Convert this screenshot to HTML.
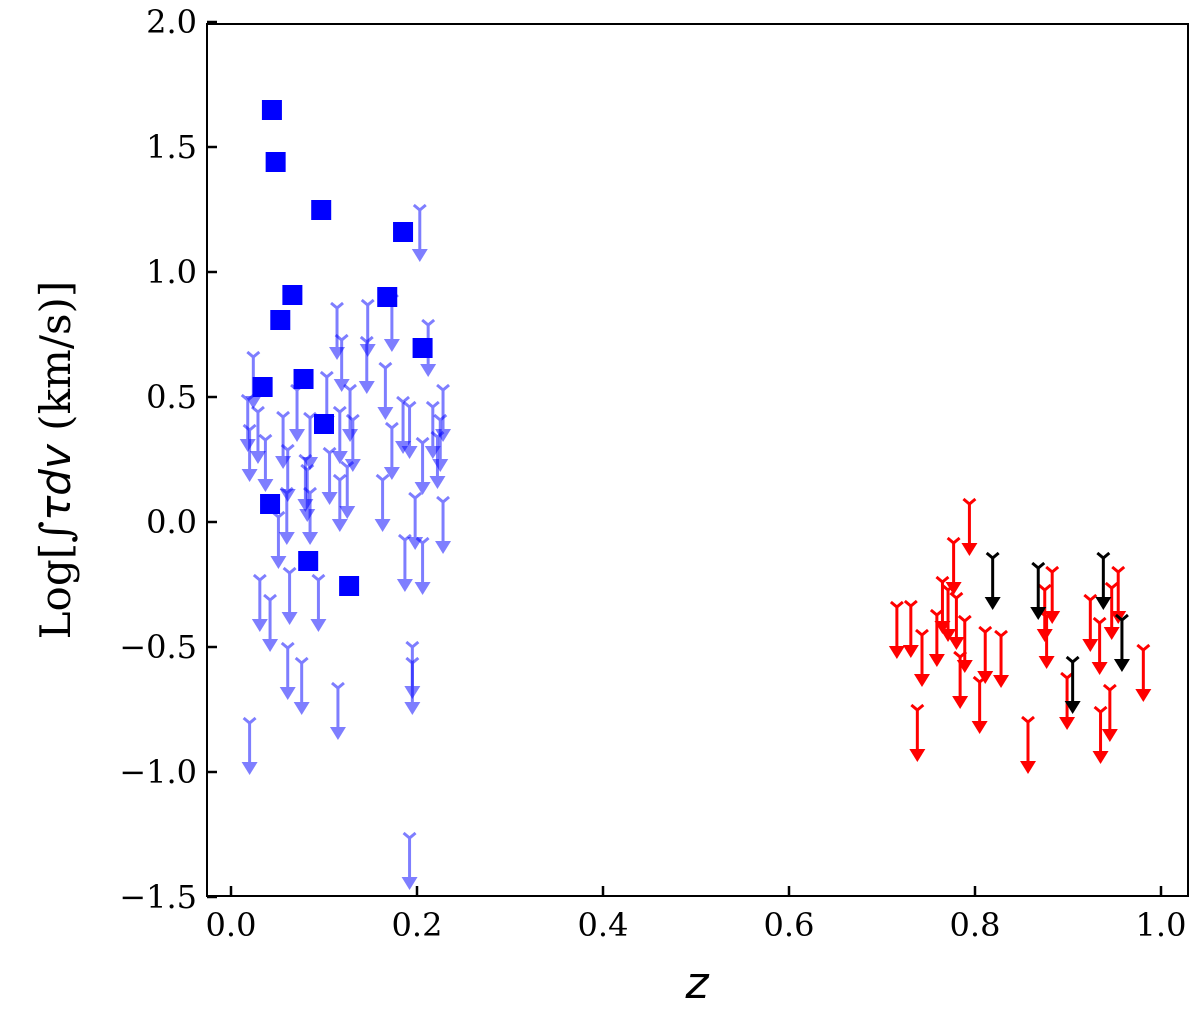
<!DOCTYPE html>
<html><head><meta charset="utf-8"><style>
body{margin:0;background:#fff}
svg text{font-family:"DejaVu Serif","Liberation Serif",serif;fill:#000}
</style></head><body>
<svg id="chart" width="1200" height="1012" xmlns="http://www.w3.org/2000/svg">
<rect x="207" y="24" width="981" height="872" fill="none" stroke="#000" stroke-width="2"/>
<g id="ticks"></g>
<g id="marks"></g>
<text x="697" y="998" font-size="44" font-style="italic" text-anchor="middle" style="font-family:'DejaVu Sans',sans-serif">z</text>
<text transform="translate(70,460) rotate(-90)" font-size="42" text-anchor="middle">Log[∫<tspan font-style="italic" style="font-family:'DejaVu Sans',sans-serif">τdv</tspan> (km/s)]</text>
</svg>
<script>
const xTicks=[0.0,0.2,0.4,0.6,0.8,1.0];
const yTicks=[-1.5,-1.0,-0.5,0.0,0.5,1.0,1.5,2.0];
const detZ=[.044,.048,.097,.185,.066,.053,.168,.206,.034,.078,.100,.042,.083,.127];
const detY=[1.648,1.44,1.248,1.16,.908,.808,.90,.696,.54,.572,.392,.072,-.156,-.256];
const lowZ=[.203,.192,.114,.147,.173,.212,.024,.119,.146,.103,.128,.071,.166,.018,.029,.056,.085,.185,.192,.217,.228,.117,.131,.173,.225,.037,.106,.080,.061,.125,.163,.206,.222,.198,.228,.051,.031,.042,.063,.094,.061,.076,.195,.195,.115,.020,.206,.187,.082,.020,.085,.060,.117];
const lowY=[1.248,-1.264,.856,.868,.888,.788,.66,.728,.72,.58,.528,.528,.616,.488,.44,.42,.416,.48,.46,.46,.528,.44,.408,.376,.408,.328,.276,.248,.288,.22,.168,.316,.34,.096,.08,.02,-.232,-.312,-.204,-.232,-.504,-.564,-.5,-.564,-.664,-.804,-.084,-.072,.208,.368,.116,.116,.168];
const redZ=[.794,.777,.765,.716,.731,.743,.771,.780,.759,.789,.811,.828,.738,.883,.875,.877,.924,.954,.947,.934,.981,.899,.945,.935,.857,.805,.784];
const redY=[.072,-.084,-.24,-.34,-.336,-.452,-.272,-.304,-.372,-.396,-.44,-.456,-.752,-.2,-.272,-.38,-.312,-.2,-.264,-.404,-.512,-.624,-.672,-.76,-.8,-.64,-.54];
const blkZ=[.819,.868,.938,.958,.905];
const blkY=[-.144,-.184,-.144,-.392,-.56];

const NS="http://www.w3.org/2000/svg";
const X=z=>231+z*930, Y=v=>522-v*250;
function mk(t,a,p){const e=document.createElementNS(NS,t);for(const k in a)e.setAttribute(k,a[k]);p.appendChild(e);return e;}
const tg=document.getElementById('ticks'), mg=document.getElementById('marks');
xTicks.forEach(t=>{
 const l=mk('line',{x1:X(t),x2:X(t),y1:896,y2:886,stroke:'#000','stroke-width':2.5},tg);
 
 
 const s=mk('text',{x:X(t),y:936,'font-size':32,'text-anchor':'middle'},tg);s.textContent=t.toFixed(1);
 
 
});
yTicks.forEach(t=>{
 const l=mk('line',{x1:207,x2:217,y1:Y(t),y2:Y(t),stroke:'#000','stroke-width':2.5},tg);
 
 
 const s=mk('text',{x:197,y:Y(t)+11,'font-size':32,'text-anchor':'end'},tg);s.textContent=(t<0?'\u2212':'')+Math.abs(t).toFixed(1);
 
 
});
function limit(z,v,col,op,w,name){
 const g=mk('g',{stroke:col,fill:col,opacity:op},mg);
 
 
 const x=X(z),y=Y(v);
 mk('line',{x1:x,x2:x,y1:y,y2:y+42,'stroke-width':w},g);
 mk('path',{d:`M${x-6},${y-5} L${x},${y} L${x+6},${y-5}`,fill:'none','stroke-width':w},g);
 mk('path',{d:`M${x-8},${y+39} L${x+8},${y+39} L${x},${y+52}Z`,stroke:'none'},g);
}
lowZ.forEach((z,i)=>limit(z,lowY[i],'#0000ff',0.5,3,'blue-upper-limit'));
redZ.forEach((z,i)=>limit(z,redY[i],'#ff0000',1,3,'red-upper-limit'));
blkZ.forEach((z,i)=>limit(z,blkY[i],'#000000',1,3,'black-upper-limit'));
detZ.forEach((z,i)=>{
 const r=mk('rect',{x:X(z)-10,y:Y(detY[i])-10,width:20,height:20,fill:'#0000ff'},mg);
 
 
});
</script>
</body></html>
